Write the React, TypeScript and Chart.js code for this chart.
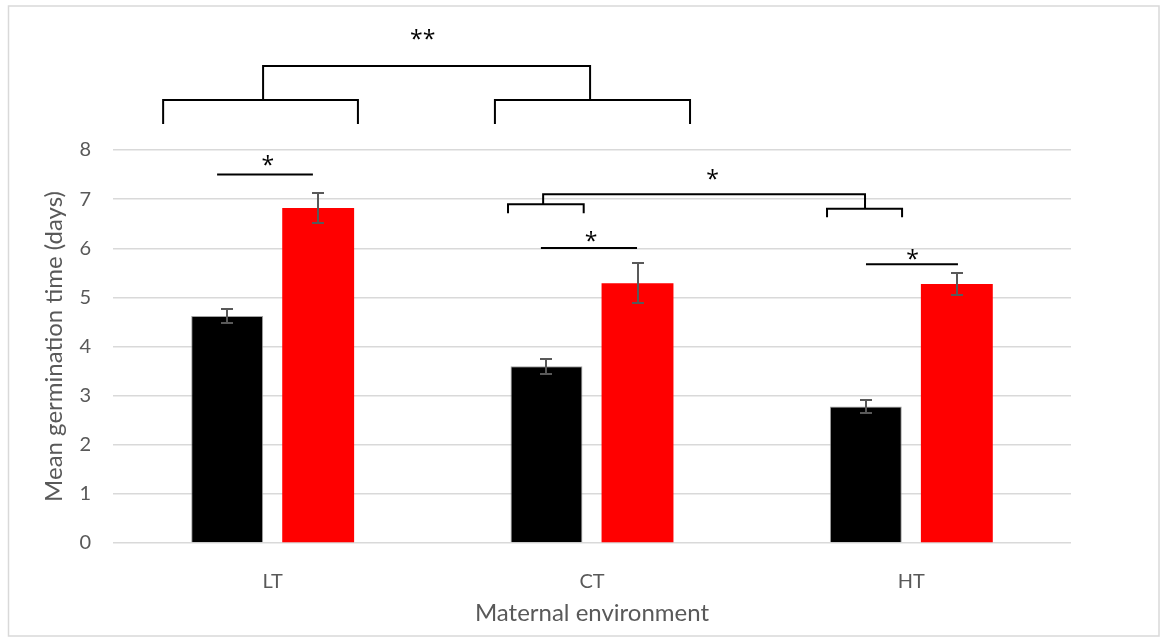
import { useEffect, useRef } from 'react';
import { Chart, registerables } from 'chart.js';

Chart.register(...registerables);

// Mean germination time per maternal environment, two germination treatments
const categories = ['LT', 'CT', 'HT'];
const blackMeans = [4.62, 3.6, 2.78];
const blackErrors = [0.14, 0.15, 0.14];
const redMeans = [6.82, 5.29, 5.27];
const redErrors = [0.31, 0.4, 0.22];
const yTickMax = 8;

// Significance brackets, x in category units (0 = LT), y in days
const brackets = [
  { x1: -0.343, x2: 0.267, y: 9.02, leg1: 8.53, leg2: 8.53 },
  { x1: 0.696, x2: 1.307, y: 9.02, leg1: 8.53, leg2: 8.53 },
  { x1: -0.03, x2: 0.994, y: 9.71, leg1: 9.02, leg2: 9.02 },
  { x1: 0.737, x2: 0.974, y: 6.895, leg1: 6.712, leg2: 6.712 },
  { x1: 1.736, x2: 1.971, y: 6.805, leg1: 6.63, leg2: 6.63 },
  { x1: 0.847, x2: 1.855, y: 7.098, leg1: 6.895, leg2: 6.805 },
];
const sigLines = [
  { x1: -0.174, x2: 0.126, y: 7.5 },
  { x1: 0.84, x2: 1.141, y: 6.005 },
  { x1: 1.858, x2: 2.146, y: 5.673 },
];
const sigLabels = [
  { x: 0.47, y: 10.36, text: '**' },
  { x: -0.015, y: 7.8, text: '*' },
  { x: 1.378, y: 7.51, text: '*' },
  { x: 0.997, y: 6.25, text: '*' },
  { x: 2.004, y: 5.88, text: '*' },
];

const FONT = 'Lato, "Open Sans", sans-serif';
const STAR_FONT = '"Open Sans", "Noto Sans", sans-serif';

const framePlugin = {
  id: 'frame',
  beforeDraw(chart: any) {
    const { ctx, width, height } = chart;
    ctx.save();
    ctx.fillStyle = '#ffffff';
    ctx.fillRect(0, 0, width, height);
    ctx.strokeStyle = '#d9d9d9';
    ctx.lineWidth = 1.5;
    ctx.strokeRect(8.5, 6, 1150.5, 630);
    ctx.restore();
  },
};

const errorBarPlugin = {
  id: 'errorBars',
  afterDatasetsDraw(chart: any) {
    const { ctx } = chart;
    const yScale = chart.scales.y;
    const errs = [blackErrors, redErrors];
    ctx.save();
    ctx.strokeStyle = '#595959';
    ctx.lineWidth = 2;
    chart.data.datasets.forEach((ds: any, i: number) => {
      const meta = chart.getDatasetMeta(i);
      meta.data.forEach((bar: any, j: number) => {
        const v = ds.data[j];
        const e = errs[i][j];
        const top = Math.round(yScale.getPixelForValue(v + e));
        const bot = Math.round(yScale.getPixelForValue(v - e));
        const x = Math.round(bar.x);
        ctx.beginPath();
        ctx.moveTo(x, top);
        ctx.lineTo(x, bot);
        ctx.moveTo(x - 6, top);
        ctx.lineTo(x + 6, top);
        ctx.moveTo(x - 6, bot);
        ctx.lineTo(x + 6, bot);
        ctx.stroke();
      });
    });
    ctx.restore();
  },
};

const significancePlugin = {
  id: 'significance',
  afterDraw(chart: any) {
    const { ctx } = chart;
    const xs = chart.scales.x;
    const ys = chart.scales.y;
    const px = (c: number) => xs.getPixelForValue(c);
    const py = (v: number) => ys.getPixelForValue(v);
    ctx.save();
    ctx.strokeStyle = '#000000';
    ctx.lineWidth = 2;
    ctx.lineCap = 'butt';
    brackets.forEach((b) => {
      ctx.beginPath();
      ctx.moveTo(px(b.x1), py(b.leg1));
      ctx.lineTo(px(b.x1), py(b.y));
      ctx.lineTo(px(b.x2), py(b.y));
      ctx.lineTo(px(b.x2), py(b.leg2));
      ctx.stroke();
    });
    sigLines.forEach((l) => {
      ctx.beginPath();
      ctx.moveTo(px(l.x1), py(l.y));
      ctx.lineTo(px(l.x2), py(l.y));
      ctx.stroke();
    });
    const size = 23;
    ctx.fillStyle = '#000000';
    ctx.font = `${size}px ${STAR_FONT}`;
    ctx.textAlign = 'center';
    ctx.textBaseline = 'alphabetic';
    sigLabels.forEach((s) => {
      ctx.fillText(s.text, px(s.x), py(s.y) + size * 0.58);
    });
    ctx.restore();
  },
};

export default function App() {
  const canvasRef = useRef<HTMLCanvasElement | null>(null);

  useEffect(() => {
    if (!canvasRef.current) return;
    const chart = new Chart(canvasRef.current, {
      type: 'bar',
      data: {
        labels: categories,
        datasets: [
          {
            label: 'Black',
            data: blackMeans,
            backgroundColor: '#000000',
            borderColor: 'rgba(140,140,140,0.8)',
            borderWidth: 1,
            categoryPercentage: 0.57,
            barPercentage: 0.79,
          },
          {
            label: 'Red',
            data: redMeans,
            backgroundColor: '#ff0000',
            borderWidth: 0,
            categoryPercentage: 0.57,
            barPercentage: 0.79,
          },
        ],
      },
      options: {
        animation: false,
        responsive: false,
        maintainAspectRatio: false,
        layout: { padding: { top: 150, right: 89, left: 0, bottom: 0 } },
        plugins: {
          legend: { display: false },
          tooltip: { enabled: false },
        },
        scales: {
          x: {
            grid: { display: false },
            border: { display: false },
            ticks: {
              color: '#595959',
              font: { family: FONT, size: 20 },
              padding: 19,
            },
            title: {
              display: true,
              text: 'Maternal environment',
              color: '#595959',
              font: { family: FONT, size: 24 },
              padding: { top: 0, bottom: 9 },
            },
            afterFit: (scale: any) => {
              scale.height = 94;
            },
          },
          y: {
            min: 0,
            max: yTickMax,
            ticks: {
              stepSize: 1,
              color: '#595959',
              font: { family: FONT, size: 20 },
              padding: 22,
            },
            grid: { color: '#d9d9d9', lineWidth: 1.5, drawTicks: false },
            border: { display: false },
            title: {
              display: true,
              text: 'Mean germination time (days)',
              color: '#595959',
              font: { family: FONT, size: 24 },
              padding: { top: 40, bottom: 0 },
            },
            afterFit: (scale: any) => {
              scale.width = 113;
            },
          },
        },
      },
      plugins: [framePlugin, errorBarPlugin, significancePlugin],
    });
    return () => chart.destroy();
  }, []);

  return (
    <div style={{ position: 'fixed', left: 0, top: 0, width: 1160, height: 637 }}>
      <canvas ref={canvasRef} width={1160} height={637} style={{ display: 'block' }} />
    </div>
  );
}
